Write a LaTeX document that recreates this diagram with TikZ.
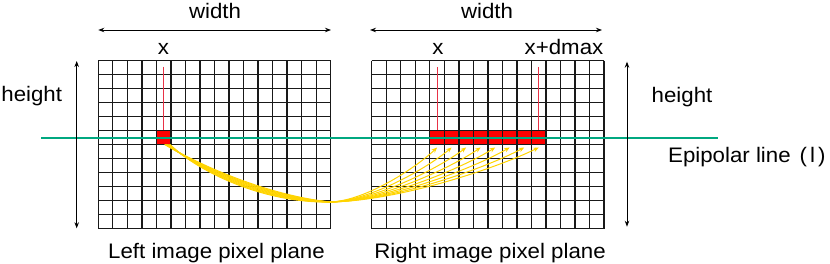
\documentclass[tikz,border=0pt]{standalone}
\usepackage{fontspec}
\setmainfont{Liberation Sans}[FakeStretch=1.06]
\usetikzlibrary{arrows.meta}
\definecolor{epigreen}{RGB}{0,168,128}
\definecolor{gold}{RGB}{255,212,0}
\definecolor{pinkred}{RGB}{232,50,70}
\begin{document}
\begin{tikzpicture}[x=1pt,y=-1pt,
  lbl/.style={font=\fontsize{21}{24}\selectfont, inner sep=0pt, anchor=base},
  dim/.style={{Stealth[length=6pt,width=4.5pt]}-{Stealth[length=6pt,width=4.5pt]}, line width=0.9pt, black},
  gridline/.style={line width=1.3pt, black!90},
  redcell/.style={fill=red, draw=none, inner sep=0pt, minimum height=14pt},
  marker/.style={draw=pinkred, line width=1.1pt},
  yel/.style={gold, line width=1pt},
  yelarrow/.style={gold, line width=1pt, -{Stealth[length=5.5pt,width=4.5pt]}}]
\useasboundingbox (0,0) rectangle (830,264);
% red cells
\node[redcell, minimum width=14.525pt] (ls) at (163.86,137.7) {};
\node[redcell, minimum width=116.2pt] (rs) at (487.9,137.7) {};
% grids
\foreach \i in {0,...,16} {
  \draw[gridline] ({98.3+\i*14.525},60.7) -- ++(0,168);
  \draw[gridline] ({371.7+\i*14.525},60.7) -- ++(0,168);
}
\foreach \j in {0,...,12} {
  \draw[gridline] (98.3,{60.7+\j*14}) -- ++(232.4,0);
  \draw[gridline] (371.7,{60.7+\j*14}) -- ++(232.4,0);
}
% red markers
\coordinate (lm) at (163.86,66.7);
\coordinate (rm1) at (437.1,67);
\coordinate (rm2) at (538.8,67);
\draw[marker] (lm) -- (lm |- ls.north);
\draw[marker] (rm1) -- (rm1 |- rs.north);
\draw[marker] (rm2) -- (rm2 |- rs.north);
% epipolar line
\coordinate (e1) at (41,137.7);
\coordinate (e2) at (718,137.7);
\draw[draw=epigreen, line width=2pt] (e1) -- (e2);
% dimension arrows
\coordinate (wl1) at (98.3,30); \coordinate (wl2) at (331,30);
\coordinate (wr1) at (370,30); \coordinate (wr2) at (602,30);
\coordinate (hl1) at (76.7,61); \coordinate (hl2) at (76.7,228.3);
\coordinate (hr1) at (627,61.7); \coordinate (hr2) at (627,226.7);
\draw[dim] (wl1) -- (wl2);
\draw[dim] (wr1) -- (wr2);
\draw[dim] (hl1) -- (hl2);
\draw[dim] (hr1) -- (hr2);
% labels
\node[lbl] (tw1) at (215,18.5) {width};
\node[lbl] (tw2) at (487,18.5) {width};
\node[lbl] (tx1) at (163.5,54.5) {x};
\node[lbl] (tx2) at (438,54.5) {x};
\node[lbl] (tx3) at (564,54.5) {x+dmax};
\node[lbl] (th1) at (31.7,101.7) {height};
\node[lbl] (th2) at (682,102.3) {height};
\node[lbl, anchor=base west] (tep) at (668,162.7) {Epipolar line\hspace{9pt}(\hspace{3pt}l\hspace{3pt})};
\node[lbl] (tl) at (216.5,258.3) {Left image pixel plane};
\node[lbl] (tr) at (490,258.3) {Right image pixel plane};
% yellow matching curves
\coordinate (mid) at (330,202);
\foreach \i in {0,...,7} {
  \pgfmathsetmacro\tx{437.1+\i*14.525}
  \coordinate (s\i) at ({164.5+\i*0.8},144.5);
  \coordinate (t\i) at (\tx,147.5);
  \draw[yel] (s\i) .. controls (200,{165+\i*1.2}) and (266,{195+\i*1.2}) .. (mid);
  \draw[yelarrow] (mid) .. controls ({330+0.33*(\tx-330)},201) and ({\tx-0.2*(\tx-330)},168) .. (t\i);
}
\end{tikzpicture}
\end{document}
